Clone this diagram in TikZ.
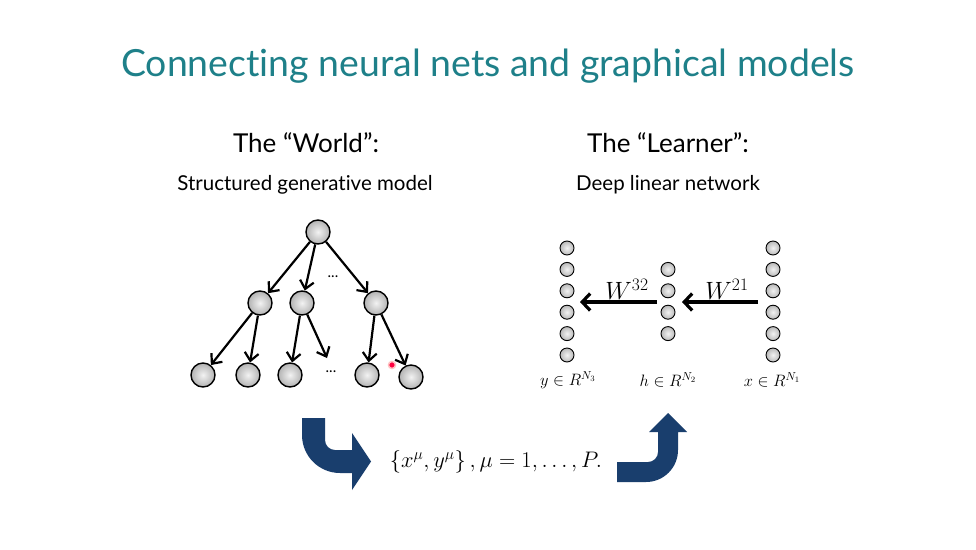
\RequirePackage{fix-cm}
\documentclass[tikz,border=0pt]{standalone}
\usepackage{fontspec}
\setmainfont{Lato}[Ligatures=NoCommon]
\usetikzlibrary{arrows.meta,calc}
\definecolor{titleteal}{HTML}{1E8089}
\definecolor{navy}{HTML}{193E6D}
\tikzset{
  tnode/.style={circle,draw=black,line width=1.4pt,minimum size=24pt,inner sep=0pt,inner color=gray!10,outer color=gray!60},
  nnode/.style={circle,draw=black,line width=0.9pt,minimum size=14pt,inner sep=0pt,inner color=gray!10,outer color=gray!55},
  tarrow/.style={line width=2.2pt,-{Straight Barb[length=8pt,width=14pt,line width=2.2pt]}},
  narrow/.style={line width=3.2pt,-{Straight Barb[length=8pt,width=17pt,line width=3.2pt]}},
  bigarrow/.style={fill=navy,draw=none},
}
\begin{document}
\begin{tikzpicture}[x=1pt,y=-1pt]
\useasboundingbox[fill=white] (0,0) rectangle (976,549);
% titles
\node[text=titleteal,font=\fontsize{37.4}{45}\selectfont] (title) at (488,66) {Connecting neural nets and graphical models};
\node[font=\fontsize{26}{31}\selectfont] (world) at (306,143) {The “World”:};
\node[font=\fontsize{20.5}{24}\selectfont] (worldsub) at (305,185) {Structured generative model};
\node[font=\fontsize{26}{31}\selectfont] (learner) at (668,143) {The “Learner”:};
\node[font=\fontsize{20.5}{24}\selectfont] (learnersub) at (668,185) {Deep linear network};
% tree
\node[tnode] (r) at (318,232) {};
\node[tnode] (a) at (260,303) {};
\node[tnode] (b) at (302,303) {};
\node[tnode] (c) at (376,303) {};
\node[font=\fontsize{15}{18}\selectfont] (dots1) at (333,277) {...};
\node[tnode] (l1) at (203,375) {};
\node[tnode] (l2) at (248,375) {};
\node[tnode] (l3) at (290,375) {};
\node[font=\fontsize{15}{18}\selectfont] (dots2) at (331,372) {...};
\node[tnode] (l4) at (367,375) {};
\node[tnode] (l5) at (411,377) {};
\coordinate (bfree) at (327,358);
\draw[tarrow] (r) -- (a);
\draw[tarrow] (r) -- (b);
\draw[tarrow] (r) -- (c);
\draw[tarrow] (a) -- (l1);
\draw[tarrow] (a) -- (l2);
\draw[tarrow] (b) -- (l3);
\draw[tarrow] (b) -- (bfree);
\draw[tarrow] (c) -- (l4);
\draw[tarrow] (c) -- (l5);
\node[circle,fill=red!75!magenta,draw=pink,line width=1.5pt,minimum size=7pt,inner sep=0pt] (pointer) at (392,365) {};
% network
\foreach \i in {0,...,5} {
  \node[nnode] (y\i) at (567,248+21.4*\i) {};
  \node[nnode] (x\i) at (773,248+21.4*\i) {};
}
\foreach \i in {1,...,4} {
  \node[nnode] (h\i) at (668,248+21.4*\i) {};
}
\coordinate (hs) at (657,302);
\coordinate (yt) at (580,302);
\coordinate (xs) at (758,302);
\coordinate (ht) at (682,302);
\draw[narrow] (hs) -- (yt);
\draw[narrow] (xs) -- (ht);
\node[font=\fontsize{25}{30}\selectfont] (w32) at (627,289) {$W^{32}$};
\node[font=\fontsize{25}{30}\selectfont] (w21) at (727,289) {$W^{21}$};
\node[font=\fontsize{16.5}{19}\selectfont] (ylab) at (568,380) {$y\in R^{N_3}$};
\node[font=\fontsize{16.5}{19}\selectfont] (hlab) at (668,380) {$h\in R^{N_2}$};
\node[font=\fontsize{16.5}{19}\selectfont] (xlab) at (772,380) {$x\in R^{N_1}$};
% bottom arrows
\path[bigarrow] (302,418) -- (325,418) -- (325,440)
  .. controls (325,445.5) and (329.5,450) .. (335,450)
  -- (352,450) -- (352,433) -- (371,461.5) -- (352,490) -- (352,473) -- (340,473)
  .. controls (319,473) and (302,456) .. (302,435) -- cycle;
\path[bigarrow] (617,462) -- (648,462)
  .. controls (653.5,462) and (658,457.5) .. (658,452)
  -- (658,432) -- (649,432) -- (668,413) -- (687,432) -- (678,432) -- (678,450)
  .. controls (678,467.7) and (663.7,482) .. (646,482) -- (617,482) -- cycle;
\node[font=\fontsize{22.5}{27}\selectfont] (data) at (496,462) {$\{x^\mu,y^\mu\}\,,\mu=1,\ldots,P.$};
\end{tikzpicture}
\end{document}
